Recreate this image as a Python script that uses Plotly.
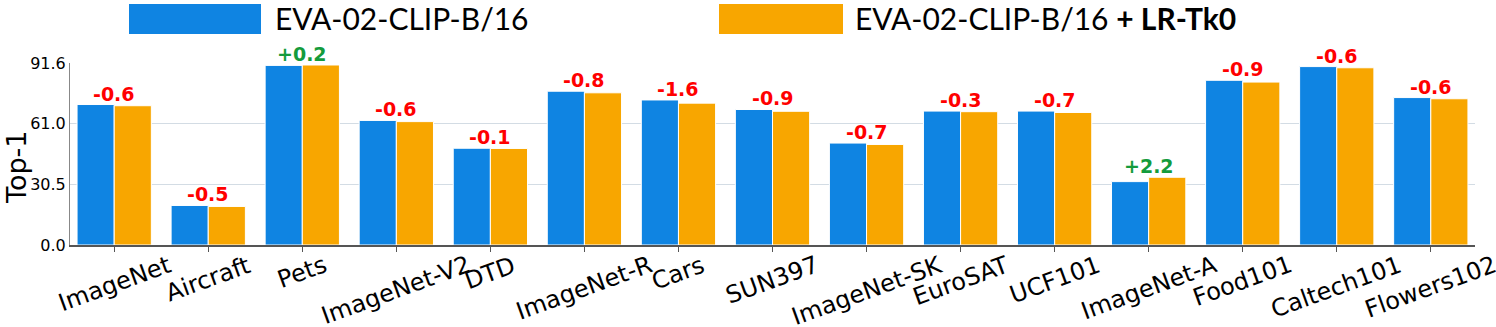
import plotly.graph_objects as go

# Dati: accuratezza Top-1 per dataset
datasets = ['ImageNet', 'Aircraft', 'Pets', 'ImageNet-V2', 'DTD', 'ImageNet-R', 'Cars',
            'SUN397', 'ImageNet-SK', 'EuroSAT', 'UCF101', 'ImageNet-A', 'Food101',
            'Caltech101', 'Flowers102']
base = [70.7, 19.9, 90.4, 62.7, 48.7, 77.4, 73.0, 68.2, 51.3, 67.4, 67.4, 31.9, 82.9, 89.8, 74.2]
lrtk0 = [70.1, 19.4, 90.6, 62.1, 48.6, 76.6, 71.4, 67.3, 50.6, 67.1, 66.7, 34.1, 82.0, 89.2, 73.6]
delta = ['-0.6', '-0.5', '+0.2', '-0.6', '-0.1', '-0.8', '-1.6', '-0.9', '-0.7', '-0.3',
         '-0.7', '+2.2', '-0.9', '-0.6', '-0.6']
ytick_vals = [0.0, 30.5, 61.0, 91.6]
ytick_text = ['0.0', '30.5', '61.0', '91.6']

BLUE = '#0f84e2'
ORANGE = '#f8a600'

W, H = 1496, 327
L, R, T, B = 70, 21, 63, 82
pw, ph = W - L - R, H - T - B


def px_x(p):
    # pixel orizzontale -> coordinata paper
    return (p - L) / pw


def px_y(p):
    return (H - B - p) / ph


fig = go.Figure()
fig.add_trace(go.Bar(x=datasets, y=base, name='EVA-02-CLIP-B/16',
                     marker=dict(color=BLUE, line=dict(color='white', width=1))))
fig.add_trace(go.Bar(x=datasets, y=lrtk0, name='EVA-02-CLIP-B/16 + LR-Tk0',
                     marker=dict(color=ORANGE, line=dict(color='white', width=1))))

# etichette delle differenze sopra le barre
for d, b, o, t in zip(datasets, base, lrtk0, delta):
    col = '#149b3c' if t.startswith('+') else '#ff0000'
    fig.add_annotation(x=d, y=max(b, o), text='<b>' + t + '</b>', showarrow=False,
                       yanchor='bottom', yshift=-2,
                       font=dict(family='DejaVu Sans', size=19, color=col))

# etichette asse x ruotate e centrate sul tick (stile matplotlib)
for d in datasets:
    fig.add_annotation(x=d, xref='x', y=0, yref='paper', text=d, showarrow=False,
                       textangle=-20, xanchor='center', yanchor='top', yshift=-3,
                       font=dict(family='DejaVu Sans', size=24, color='black'))

# titolo asse y
fig.add_annotation(xref='paper', yref='paper', x=px_x(16), y=px_y(168), text='Top-1',
                   textangle=-90, showarrow=False, xanchor='center', yanchor='middle',
                   font=dict(family='DejaVu Sans', size=27, color='black'))


# legenda disegnata a mano (rettangoli grandi)
def legend_item(x0, x1, tx, color, text):
    fig.add_shape(type='rect', xref='paper', yref='paper', x0=px_x(x0), x1=px_x(x1),
                  y0=px_y(34), y1=px_y(4), fillcolor=color, line=dict(width=0), layer='above')
    fig.add_annotation(xref='paper', yref='paper', x=px_x(tx - 2), y=px_y(18), text=text,
                       showarrow=False, xanchor='left', yanchor='middle',
                       font=dict(family='Lato', size=30, color='black'))


legend_item(129, 261, 275, BLUE, 'EVA-02-CLIP-B/16')
legend_item(719, 843, 855, ORANGE, 'EVA-02-CLIP-B/16 <b>+ LR-Tk0</b>')

fig.update_layout(
    width=W, height=H,
    margin=dict(l=L, r=R, t=T, b=B),
    plot_bgcolor='white', paper_bgcolor='white',
    barmode='group', bargap=0.21, bargroupgap=0,
    showlegend=False,
    font=dict(family='DejaVu Sans', color='black'),
)
fig.update_xaxes(range=[-0.47, len(datasets) - 0.53],
                 showline=True, linecolor='#555555', linewidth=1.5, ticks='outside',
                 ticklen=5, tickcolor='#555555', showticklabels=False, showgrid=False,
                 automargin=False)
fig.update_yaxes(range=[0, 91.6], tickvals=ytick_vals, ticktext=ytick_text,
                 showline=True, linecolor='#888888', linewidth=1,
                 gridcolor='#d3dce4', gridwidth=1, zeroline=False,
                 tickfont=dict(family='DejaVu Sans', size=16), ticks='', automargin=False)

fig.write_html("out.html", config={'displayModeBar': False},
               post_script="document.body.style.margin='0';")
